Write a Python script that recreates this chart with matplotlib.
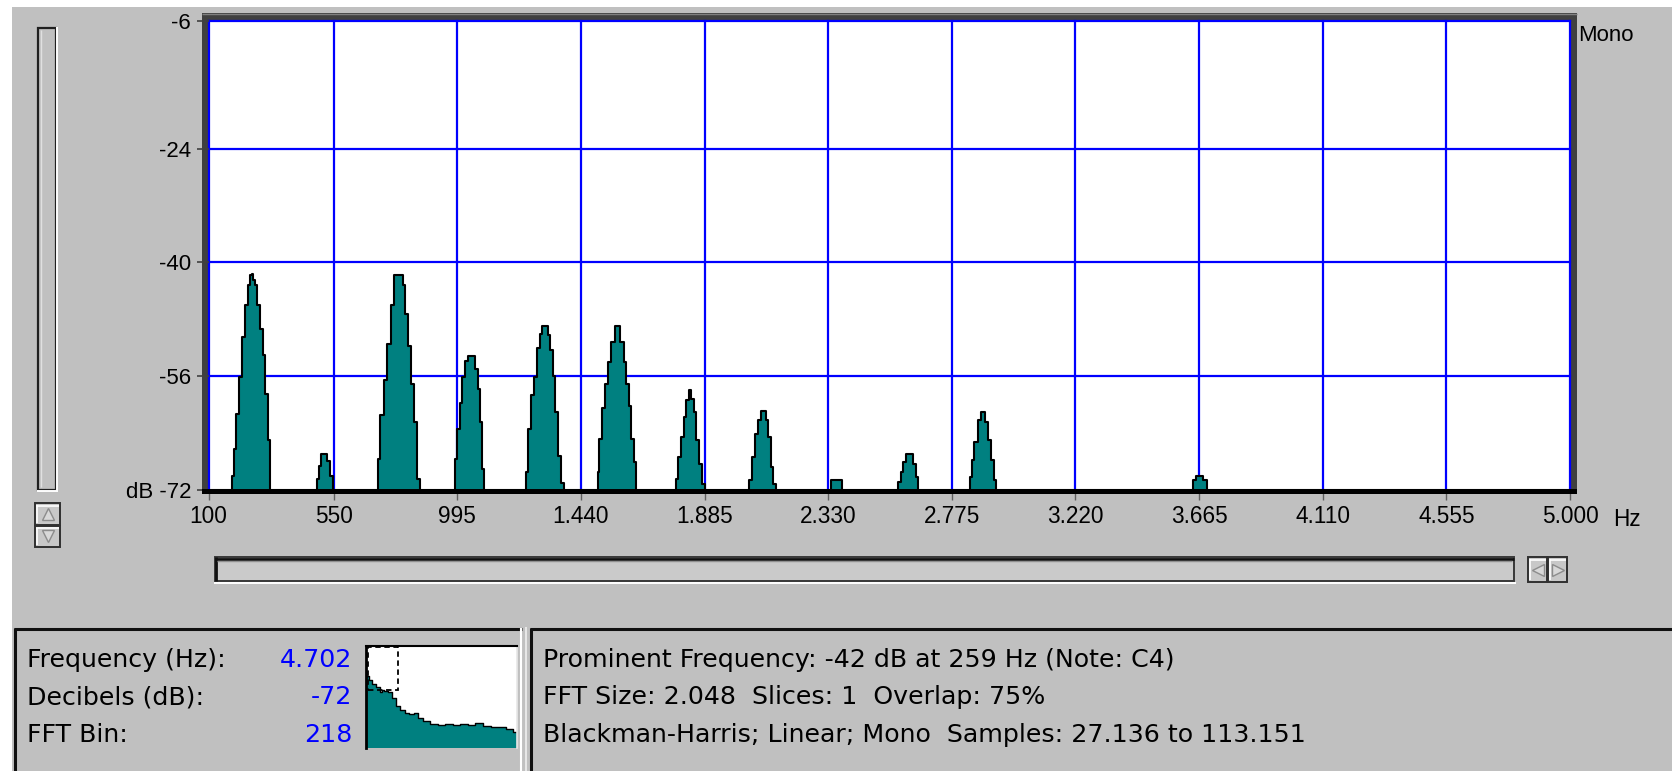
import matplotlib
matplotlib.use("Agg")
import matplotlib.pyplot as plt
from matplotlib.patches import Rectangle
from matplotlib.lines import Line2D

# ---------------- data ----------------
x_ticks_hz = [100, 550, 995, 1440, 1885, 2330, 2775, 3220, 3665, 4110, 4555, 5000]
x_tick_labels = ["100", "550", "995", "1.440", "1.885", "2.330", "2.775",
                 "3.220", "3.665", "4.110", "4.555", "5.000"]
y_ticks_db = [-6, -24, -40, -56, -72]
y_tick_labels = ["-6", "-24", "-40", "-56", "dB -72"]

# spectrum outline (Hz, dB), floor at -72 dB
spectrum_hz = [100,
               184, 186, 195, 205, 217, 226, 237, 246, 252, 258, 262, 269, 279, 291, 300, 308, 316, 324,
               488, 493, 501, 509, 519, 531, 543, 552,
               705, 712, 724, 736, 746, 764, 772, 796, 802, 812, 822, 832, 844, 858, 863,
               985, 990, 999, 1009, 1018, 1030, 1036, 1052, 1064, 1072, 1080, 1090, 1093,
               1241, 1245, 1254, 1265, 1275, 1287, 1295, 1308, 1317, 1326, 1335, 1341, 1350, 1362, 1377, 1384,
               1499, 1503, 1509, 1521, 1530, 1542, 1554, 1569, 1575, 1590, 1599, 1607, 1617, 1626, 1635, 1642,
               1781, 1785, 1797, 1805, 1815, 1823, 1833, 1842, 1851, 1860, 1869, 1880, 1894,
               2039, 2049, 2060, 2070, 2082, 2091, 2103, 2109, 2118, 2127, 2139, 2146,
               2329, 2348, 2372, 2385,
               2579, 2586, 2595, 2604, 2613, 2634, 2640, 2649, 2655,
               2839, 2843, 2850, 2862, 2874, 2883, 2891, 2901, 2910, 2921, 2931, 2935,
               3637, 3650, 3660, 3672, 3683, 3705,
               5000]
spectrum_db = [-72,
               -72, -70.0, -66.2, -61.3, -56.1, -50.5, -46.0, -43.2, -41.7, -41.6, -42.5, -43.2, -46.0, -49.3, -53.0, -58.5, -65.0, -72,
               -72, -70.5, -68.6, -66.9, -66.9, -67.9, -70.0, -72,
               -72, -67.6, -61.5, -56.6, -51.5, -46.0, -41.7, -41.7, -43.2, -47.2, -51.8, -57.1, -62.5, -70.5, -72,
               -72, -67.6, -63.4, -59.7, -56.1, -53.9, -53.1, -53.1, -55.0, -57.8, -62.5, -69.0, -72,
               -72, -69.5, -63.4, -58.7, -56.1, -52.1, -50.0, -48.9, -48.9, -50.2, -52.3, -55.9, -61.1, -67.2, -71.0, -72,
               -72, -69.5, -64.8, -60.4, -57.1, -54.0, -51.2, -48.9, -48.9, -51.2, -54.0, -57.1, -60.2, -64.8, -68.0, -72,
               -72, -70.4, -67.4, -64.5, -61.7, -59.4, -57.9, -59.2, -61.1, -65.0, -68.3, -71.1, -72,
               -72, -70.6, -67.4, -64.1, -62.2, -60.9, -60.9, -62.2, -64.5, -68.8, -71.1, -72,
               -72, -70.6, -70.6, -72,
               -72, -70.9, -69.5, -68.1, -67.0, -67.0, -68.3, -70.2, -72,
               -72, -70.2, -67.8, -65.3, -62.2, -61.0, -61.0, -62.4, -65.0, -67.8, -70.6, -72,
               -72, -70.6, -70.1, -70.1, -70.6, -72,
               -72]

# overview (mini) spectrum: position across width, relative level
mini_pos = [0.0, 0.01, 0.03, 0.05, 0.08, 0.10, 0.11, 0.13, 0.16, 0.19, 0.21, 0.24, 0.27,
            0.30, 0.33, 0.36, 0.40, 0.45, 0.50, 0.55, 0.60, 0.65, 0.70, 0.75, 0.80,
            0.85, 0.90, 0.95, 1.0]
mini_level = [0.70, 0.71, 0.67, 0.63, 0.60, 0.55, 0.57, 0.56, 0.55, 0.49, 0.41, 0.37, 0.34,
              0.33, 0.34, 0.29, 0.26, 0.24, 0.23, 0.24, 0.23, 0.24, 0.23, 0.25, 0.22,
              0.21, 0.205, 0.185, 0.16]

readout_labels = ["Frequency (Hz):", "Decibels (dB):", "FFT Bin:"]
readout_values = ["4.702", "-72", "218"]
info_lines = ["Prominent Frequency: -42 dB at 259 Hz (Note: C4)",
              "FFT Size: 2.048  Slices: 1  Overlap: 75%",
              "Blackman-Harris; Linear; Mono  Samples: 27.136 to 113.151"]

# ---------------- styling ----------------
W, H, DPI = 1672, 771, 100
BG = "#c0c0c0"
TEAL = "#008080"
GRID = "#0000ff"
plt.rcParams["font.family"] = ["Liberation Sans", "DejaVu Sans"]
PANEL_FONT = ["DejaVu Sans"]
PANEL_SIZE = 18.2

fig = plt.figure(figsize=(W / DPI, H / DPI), dpi=DPI, facecolor=BG)


def fx(x):
    return x / W


def fy(y):
    return 1 - y / H


def rect(x0, y0, x1, y1, **kw):
    r = Rectangle((fx(x0), fy(y1)), (x1 - x0) / W, (y1 - y0) / H,
                  transform=fig.transFigure, **kw)
    fig.patches.append(r)
    return r


def hline(x0, x1, y, **kw):
    fig.add_artist(Line2D([fx(x0), fx(x1)], [fy(y), fy(y)], transform=fig.transFigure,
                          solid_capstyle="butt", **kw))


def vline(x, y0, y1, **kw):
    fig.add_artist(Line2D([fx(x), fx(x)], [fy(y0), fy(y1)], transform=fig.transFigure,
                          solid_capstyle="butt", **kw))


def marker(x, y, mk, **kw):
    fig.add_artist(Line2D([fx(x)], [fy(y)], marker=mk, linestyle="none",
                          transform=fig.transFigure, **kw))


# white window margins
rect(0, 0, W, 7, facecolor="white", edgecolor="none", zorder=-5)
rect(0, 0, 12, H, facecolor="white", edgecolor="none", zorder=-5)

# sunken frame around plot
rect(202, 13, 1577, 494, facecolor="#404040", edgecolor="none", zorder=-2)
hline(202, 1577, 13.5, color="#808080", lw=1, zorder=-1)

# ---------------- main spectrum axes ----------------
ax = fig.add_axes([fx(208.6), fy(490), (1570 - 208.6) / W, (490 - 20.7) / H])
ax.set_facecolor("white")
ax.set_xlim(100, 5000)
ax.set_ylim(-72, -6)
for s in ax.spines.values():
    s.set_visible(False)

for xv in x_ticks_hz:
    ax.axvline(xv, color=GRID, lw=1.6, zorder=1, clip_on=False)
for yv in y_ticks_db[:-1]:
    ax.axhline(yv, color=GRID, lw=1.6, zorder=1, clip_on=False)

ax.fill_between(spectrum_hz, spectrum_db, -72, color=TEAL, lw=0, zorder=2, step="mid")
ax.step(spectrum_hz, spectrum_db, where="mid", color="black", lw=1.5, zorder=3)

ax.set_xticks(x_ticks_hz, x_tick_labels)
ax.set_yticks(y_ticks_db, y_tick_labels)
ax.tick_params(axis="x", length=7.5, width=1.0, color="#606060", pad=3, labelsize=16.3)
ax.tick_params(axis="y", length=9, width=1.2, color="#404040", pad=3.5, labelsize=16)

# bottom black axis band
rect(202, 488.5, 1577, 494, facecolor="black", edgecolor="none", zorder=5)

fig.text(fx(1578), fy(40.7), "Mono", fontsize=16, ha="left", va="baseline")
fig.text(fx(1613), fy(526), "Hz", fontsize=16.3, ha="left", va="baseline")

# ---------------- left vertical meter and buttons ----------------
rect(37.5, 27.5, 55.8, 489.5, facecolor=BG, edgecolor="#202020", lw=1.6, zorder=1)
vline(41, 30, 487, color="#e0e0e0", lw=1.0, zorder=2)
vline(57.3, 27, 491, color="white", lw=1.4, zorder=2)
hline(37, 58, 491, color="white", lw=1.4, zorder=2)

for (y0, y1, mk) in [(503, 524.5, "^"), (525.5, 546.5, "v")]:
    rect(34.5, y0, 60, y1, facecolor="#c8c8c8", edgecolor="#303030", lw=1.4, zorder=2)
    hline(36, 58.5, y0 + 2.5, color="white", lw=1.2, zorder=3)
    vline(36.5, y0 + 2, y1 - 2, color="white", lw=1.2, zorder=3)
    marker(47.5, (y0 + y1) / 2, mk, markersize=8, color="#d8d8d8",
           markeredgecolor="#8c8c8c", markeredgewidth=1.0, zorder=4)

# ---------------- horizontal scrollbar ----------------
rect(215, 557, 1514, 581, facecolor="#cacaca", edgecolor="#383838", lw=1.4, zorder=1)
hline(215, 1514, 558.5, color="#101010", lw=2, zorder=2)
vline(216.5, 557, 581, color="#101010", lw=2, zorder=2)
hline(217, 1512, 561, color="#909090", lw=1, zorder=2)
hline(214, 1516, 582.5, color="white", lw=1.4, zorder=2)
for (x0, x1, mk) in [(1528, 1547, "<"), (1548, 1567, ">")]:
    rect(x0, 557, x1, 582, facecolor="#c8c8c8", edgecolor="#303030", lw=1.4, zorder=2)
    hline(x0 + 1.5, x1 - 1.5, 559.5, color="white", lw=1.2, zorder=3)
    vline(x0 + 2, 559, 580, color="white", lw=1.2, zorder=3)
    marker((x0 + x1) / 2, 569.5, mk, markersize=8, color="#d8d8d8",
           markeredgecolor="#8c8c8c", markeredgewidth=1.0, zorder=4)

# ---------------- bottom panels ----------------
# left panel
hline(13.6, 522, 628.5, color="#101010", lw=2.2, zorder=2)
vline(14.6, 627.7, 771, color="#101010", lw=2.2, zorder=2)
vline(521, 627.7, 771, color="white", lw=1.5, zorder=2)
# right panel
hline(530, 1672, 628.5, color="#101010", lw=2.2, zorder=2)
vline(531, 628, 771, color="#101010", lw=2.2, zorder=2)
vline(526, 627, 771, color="#f0f0f0", lw=1.2, zorder=2)

baselines = [667, 704, 742]
for lab, val, yb in zip(readout_labels, readout_values, baselines):
    fig.text(fx(27), fy(yb), lab, fontsize=PANEL_SIZE, ha="left", va="baseline", family=PANEL_FONT)
    fig.text(fx(352), fy(yb), val, fontsize=PANEL_SIZE, ha="right", va="baseline",
             color="#0000ff", family=PANEL_FONT)
for line, yb in zip(info_lines, baselines):
    fig.text(fx(543), fy(yb), line, fontsize=PANEL_SIZE, ha="left", va="baseline", family=PANEL_FONT)

# mini overview chart
axm = fig.add_axes([fx(366), fy(748), (517 - 366) / W, (748 - 646) / H])
axm.set_facecolor("white")
axm.set_xlim(0, 1)
axm.set_ylim(0, 1)
axm.set_xticks([])
axm.set_yticks([])
axm.fill_between(mini_pos, mini_level, 0, color=TEAL, lw=0, step="mid")
axm.step(mini_pos, mini_level, where="mid", color="black", lw=1.0)
axm.spines["top"].set_color("black")
axm.spines["top"].set_linewidth(1.5)
axm.spines["left"].set_color("black")
axm.spines["left"].set_linewidth(2.0)
axm.spines["right"].set_color("#e8e8e8")
axm.spines["right"].set_linewidth(1.2)
axm.spines["bottom"].set_visible(False)
axm.add_patch(Rectangle((0.012, 0.568), 0.201, 0.425, fill=False, edgecolor="black",
                        lw=1.3, linestyle=(0, (3, 2)), zorder=4))

fig.savefig("out.png", dpi=DPI, facecolor=BG)
